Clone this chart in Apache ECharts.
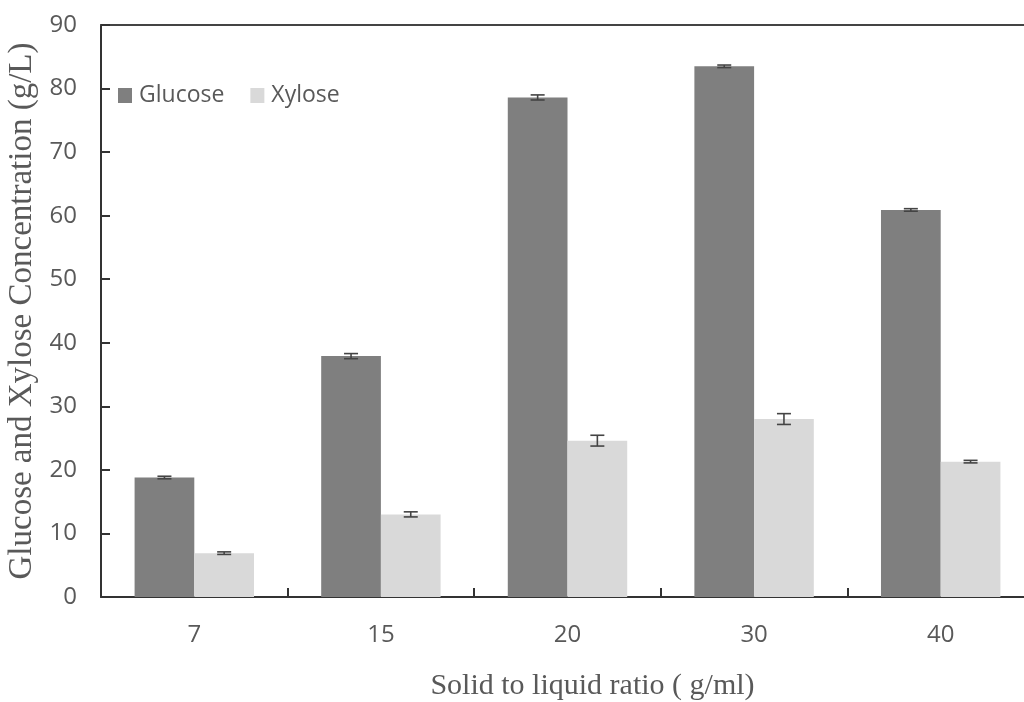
<!DOCTYPE html>
<html>
<head>
<meta charset="utf-8">
<script src="https://cdn.jsdelivr.net/npm/echarts@6/dist/echarts.min.js"></script>
<style>html,body{margin:0;padding:0;background:#fff}#c{width:1024px;height:702px}</style>
</head>
<body>
<div id="c"></div>
<script>
const categories = ['7', '15', '20', '30', '40'];
const glucose = [18.8, 37.9, 78.6, 83.5, 60.9];
const xylose = [6.9, 13.0, 24.6, 28.0, 21.3];
const glucoseErr = [0.2, 0.4, 0.4, 0.2, 0.2];
const xyloseErr = [0.2, 0.4, 0.85, 0.85, 0.2];
const yTicks = [0, 10, 20, 30, 40, 50, 60, 70, 80, 90];

const chart = echarts.init(document.getElementById('c'), null, {renderer: 'canvas'});
const GAP = 0.36;

function errSeries(vals, errs, side) {
  return {
    type: 'custom',
    z: 10,
    silent: true,
    data: vals.map((v, i) => [i, v, errs[i]]),
    renderItem: function (params, api) {
      const i = api.value(0), v = api.value(1), e = api.value(2);
      const band = api.size([1, 0])[0];
      const barW = band * (1 - GAP) / 2;
      const c = api.coord([i, v]);
      const x = c[0] + side * barW / 2;
      const yTop = api.coord([i, v + e])[1];
      const yBot = api.coord([i, v - e])[1];
      const cap = 7;
      const st = {stroke: '#444', lineWidth: 1.6, fill: null};
      return {
        type: 'group',
        children: [
          {type: 'line', shape: {x1: x, y1: yTop, x2: x, y2: yBot}, style: st},
          {type: 'line', shape: {x1: x - cap, y1: yTop, x2: x + cap, y2: yTop}, style: st},
          {type: 'line', shape: {x1: x - cap, y1: yBot, x2: x + cap, y2: yBot}, style: st}
        ]
      };
    }
  };
}

chart.setOption({
  animation: false,
  backgroundColor: '#fff',
  grid: {left: 101, top: 25, right: -10, bottom: 105, containLabel: false, outerBoundsMode: 'none'},
  legend: {
    left: 113, top: 79,
    itemWidth: 14, itemHeight: 15, itemGap: 26,
    icon: 'rect',
    textStyle: {fontFamily: 'Open Sans', fontSize: 23, color: '#595959', padding: [0, 0, 0, 2]},
    data: ['Glucose', 'Xylose']
  },
  xAxis: [{
    type: 'category',
    data: categories,
    axisLine: {lineStyle: {color: '#333', width: 2}},
    axisTick: {show: true, inside: true, length: 9, alignWithLabel: false, lineStyle: {color: '#333', width: 2}},
    axisLabel: {fontFamily: 'Open Sans', fontSize: 24, color: '#595959', margin: 26},
    name: 'Solid to liquid ratio ( g/ml)',
    nameLocation: 'middle',
    nameGap: 74,
    nameTextStyle: {fontFamily: 'Liberation Serif', fontSize: 30, color: '#595959', padding: [0, 0, 0, 50]}
  }, {
    type: 'category',
    position: 'top',
    data: categories,
    axisLine: {show: true, lineStyle: {color: '#444', width: 2}},
    axisTick: {show: false},
    axisLabel: {show: false}
  }],
  yAxis: {
    type: 'value',
    min: 0, max: 90, interval: 10,
    axisLine: {show: true, lineStyle: {color: '#333', width: 2}},
    axisTick: {show: true, inside: true, length: 9, lineStyle: {color: '#333', width: 2}},
    splitLine: {show: false},
    axisLabel: {fontFamily: 'Open Sans', fontSize: 24, color: '#595959', margin: 24,
      formatter: v => yTicks.includes(v) ? String(v) : ''},
    name: 'Glucose and Xylose Concentration (g/L)',
    nameLocation: 'middle',
    nameGap: 58,
    nameTextStyle: {fontFamily: 'Liberation Serif', fontSize: 33, color: '#595959'}
  },
  series: [
    {name: 'Glucose', type: 'bar', data: glucose, barGap: '0%', barCategoryGap: '36%',
      itemStyle: {color: '#7f7f7f'}},
    {name: 'Xylose', type: 'bar', data: xylose, barGap: '0%', barCategoryGap: '36%',
      itemStyle: {color: '#d9d9d9'}},
    errSeries(glucose, glucoseErr, -1),
    errSeries(xylose, xyloseErr, 1)
  ]
});
</script>
</body>
</html>
